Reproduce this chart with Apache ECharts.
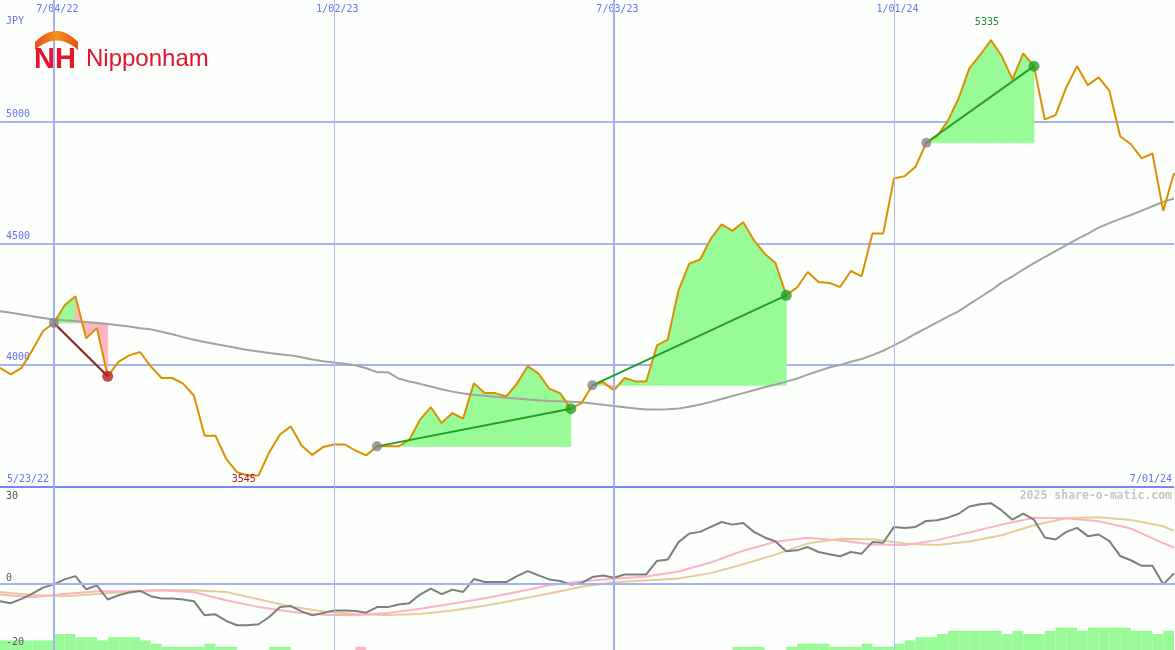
<!DOCTYPE html>
<html><head><meta charset="utf-8">
<script src="https://cdn.jsdelivr.net/npm/echarts@6/dist/echarts.min.js"></script>
<style>html,body{margin:0;padding:0;background:#fcfffc}#c{width:1175px;height:650px}</style>
</head><body><div id="c"></div>
<script>
// ---- data ----
const firstWeek = [2022, 4, 30];   // Monday 5/30/22 (first plotted week)
const weekCount = 110;
const price = [
 3988,3961,3988,4060,4139,4172,4245,4282,4109,4151,
 3953,4012,4039,4053,3994,3946,3946,3923,3874,3709,
 3709,3614,3559,3545,3545,3641,3714,3747,3669,3630,
 3662,3673,3673,3648,3628,3665,3665,3665,3692,3775,
 3826,3761,3802,3779,3925,3884,3884,3870,3923,3995,
 3964,3902,3884,3820,3843,3916,3929,3895,3946,3932,
 3932,4080,4104,4307,4416,4433,4519,4578,4551,4586,
 4512,4457,4419,4286,4318,4382,4341,4337,4320,4386,
 4364,4540,4540,4766,4776,4814,4913,4940,5003,5095,
 5219,5274,5335,5270,5174,5281,5228,5009,5027,5141,
 5228,5150,5182,5127,4940,4907,4849,4869,4633,4789];
const movingAvg = [
 4221,4214,4207,4200,4193,4187,4183,4180,4176,4172,
 4168,4163,4158,4151,4146,4136,4126,4114,4103,4094,
 4086,4078,4069,4061,4055,4049,4044,4039,4031,4022,
 4015,4010,4005,3998,3986,3970,3970,3944,3932,3922,
 3911,3900,3890,3882,3877,3873,3869,3865,3862,3858,
 3855,3852,3850,3848,3846,3841,3836,3831,3826,3821,
 3817,3817,3818,3821,3828,3837,3848,3860,3872,3884,
 3896,3908,3919,3931,3944,3960,3975,3989,4000,4013,
 4024,4040,4058,4080,4103,4128,4151,4175,4198,4220,
 4250,4278,4306,4338,4364,4392,4418,4443,4468,4492,
 4517,4540,4564,4583,4600,4616,4634,4652,4670,4684];
const oscillator = [
 -5.2,-5.8,-4.5,-2.9,-1.1,-0.1,1.4,2.4,-1.6,-0.4,
 -4.7,-3.4,-2.6,-2.1,-3.7,-4.4,-4.4,-4.7,-5.2,-9.5,
 -9.2,-11.2,-12.5,-12.5,-12.2,-10,-7,-6.7,-8.3,-9.5,
 -8.8,-8,-8,-8.2,-8.7,-7,-7,-6.2,-5.8,-3.2,
 -1.4,-3.1,-1.7,-2.4,1.5,0.6,0.6,0.6,2.4,3.9,
 2.6,1.4,0.9,-0.2,0.3,2.1,2.6,1.9,2.9,2.9,
 2.9,7,7.4,12.7,15.3,15.8,17.3,18.8,18,18.5,
 15.8,14.1,12.9,9.9,10.2,11.2,9.7,9,8.4,9.7,
 9.2,12.7,12.5,17.3,17,17.3,19.1,19.3,20.1,21.3,
 23.5,24.2,24.5,22.3,19.5,21.3,19.5,14.1,13.5,15.8,
 17,14.5,15,13,8.5,7.2,5.5,5.5,-0.1,3.2];
const signalFast = [[0,-3.2],[3,-4.0],[6,-3.0],[9,-2.2],[12,-2.1],[15,-1.9],[18,-2.5],[21,-4.9],[24,-7.0],[27,-8.4],
 [30,-9.3],[33,-9.5],[36,-8.8],[39,-7.5],[42,-6.0],[45,-4.3],[48,-2.4],[51,-0.4],[54,0.8],[57,1.6],
 [60,2.3],[63,3.8],[66,6.5],[69,10.1],[72,12.8],[75,14.0],[78,13.2],[81,12.0],[84,11.8],[87,13.3],
 [90,15.6],[93,18.0],[96,20.1],[99,19.9],[102,19.0],[105,16.8],[108,12.4],[109,11.0]];
const signalSlow = [[0,-2.4],[3,-3.3],[6,-3.7],[9,-3.0],[12,-2.3],[15,-1.9],[18,-1.9],[21,-2.4],[24,-4.6],[27,-6.8],
 [30,-8.3],[33,-9.1],[36,-9.4],[39,-9.1],[42,-8.0],[45,-6.6],[48,-4.8],[51,-2.9],[54,-0.8],[57,0.5],
 [60,1.1],[63,1.7],[66,3.3],[69,6.0],[72,8.9],[75,12.3],[78,13.7],[81,13.6],[84,12.3],[87,11.8],
 [90,12.9],[93,14.8],[96,17.8],[99,19.9],[102,20.2],[105,19.4],[108,17.5],[109,16.1]];
const histogram = [
 3,3,3,3,3,5,5,4,4,3, 4,4,4,3,2,1,1,1,1,2, 1,1,0,0,0,1,1,0,0,0,
 0,0,0,-1,0,0,0,0,0,0, 0,0,0,0,0,0,0,0,0,0, 0,0,0,0,0,0,0,0,0,0,
 0,0,0,0,0,0,0,0,1,1, 1,0,0,1,2,2,2,1,1,1, 2,1,1,2,3,4,4,5,6,6,
 6,6,6,5,6,5,5,6,7,7, 6,7,7,7,7,6,6,5,6,6];
const trendStarts = [5, 35, 55, 86];
const trendEnds   = [10, 53, 73, 96];
const markedDates = ['7/04/22', '1/02/23', '7/03/23', '1/01/24'];
const heavyDates  = ['7/04/22', '7/03/23'];
const rangeLabels = ['5/23/22', '7/01/24'];
const lowerTickLabels = ['30', '0', '-20'];
const currencyLabel = 'JPY';
const brandName = 'Nipponham';
const brandMark = 'NH';
const credit = '2025 share-o-matic.com';

// ---- build ----
const dates = [];
for (let k = 0; k < weekCount; k++) {
  const d = new Date(Date.UTC(firstWeek[0], firstWeek[1], firstWeek[2] + 7 * k));
  dates.push((d.getUTCMonth() + 1) + '/' + String(d.getUTCDate()).padStart(2, '0') + '/' + String(d.getUTCFullYear()).slice(2));
}
const MONO = '"DejaVu Sans Mono", monospace';
const BLUE = '#6474f0';
const lin = (x2, y2, stops) => ({ type: 'linear', x: 0, y: 0, x2: x2, y2: y2, global: false,
  colorStops: stops.map(s => ({ offset: s[0], color: s[1] })) });

// logo arc as polygon (quadratic curves sampled)
function quad(p0, c, p1, n) {
  const pts = [];
  for (let i = 0; i <= n; i++) { const t = i / n, u = 1 - t;
    pts.push([u * u * p0[0] + 2 * u * t * c[0] + t * t * p1[0], u * u * p0[1] + 2 * u * t * c[1] + t * t * p1[1]]); }
  return pts;
}
const arcPts = quad([35, 42], [56.5, 20], [78, 42], 24).concat(quad([78, 50], [56.5, 31], [35, 50], 24));

const fillData = [];
trendStarts.forEach((s, t) => {
  const e = trendEnds[t], base = price[s];
  for (let k = s; k < e; k++) fillData.push([k, price[k], price[k + 1], base, price[k + 1] >= base ? 1 : 0]);
});

const trendSeries = trendStarts.map((s, t) => ({
  type: 'line', xAxisIndex: 0, yAxisIndex: 0, z: 6, silent: true, showSymbol: false,
  data: [[s, price[s]], [trendEnds[t], price[trendEnds[t]]]],
  lineStyle: { color: t === 0 ? '#8f1c1c' : '#22a022', width: 2 }
}));
const dotData = [];
trendStarts.forEach((s, t) => {
  dotData.push({ value: [s, price[s]], symbolSize: 10, itemStyle: { color: '#858585' } });
  dotData.push({ value: [trendEnds[t], price[trendEnds[t]]], symbolSize: 11, itemStyle: { color: t === 0 ? '#b02020' : '#23a023' } });
});

const vLines = markedDates.map(d => ({
  xAxis: d,
  lineStyle: heavyDates.includes(d) ? { color: '#a2b0f2', width: 2, type: 'solid' } : { color: '#b4bce6', width: 1, type: 'solid' }
}));

const chart = echarts.init(document.getElementById('c'), null, { renderer: 'canvas' });
chart.setOption({
  animation: false,
  backgroundColor: '#fcfffc',
  grid: [
    { left: 0, top: 0, width: 1174, height: 486.5 },
    { left: 0, top: 487, width: 1174, height: 163 }
  ],
  xAxis: [
    { gridIndex: 0, type: 'category', data: dates, boundaryGap: false, position: 'top',
      axisLine: { show: false }, axisTick: { show: false }, splitLine: { show: false },
      axisLabel: { inside: true, margin: 4, interval: (i, v) => markedDates.includes(v),
        color: BLUE, fontFamily: MONO, fontSize: 10, padding: [0, 0, 0, 7] } },
    { gridIndex: 1, type: 'category', data: dates, boundaryGap: false, position: 'top',
      axisLine: { show: true, lineStyle: { color: '#7888f0', width: 2 } },
      axisTick: { show: false }, axisLabel: { show: false }, splitLine: { show: false } }
  ],
  yAxis: [
    { gridIndex: 0, type: 'value', min: 3500, max: 5500, interval: 500,
      axisLine: { show: false }, axisTick: { show: false },
      axisLabel: { inside: true, showMinLabel: false, showMaxLabel: false, margin: 6, formatter: v => String(v),
        verticalAlign: 'bottom', align: 'left', color: BLUE, fontFamily: MONO, fontSize: 10, padding: [0, 0, 2, 0] },
      splitLine: { show: true, lineStyle: { width: 2, type: 'solid',
        color: ['#7888f0', '#a6b2f4', '#a6b2f4', '#a6b2f4', 'rgba(0,0,0,0)'] } } },
    { gridIndex: 1, type: 'value', min: -20, max: 29.4,
      axisLine: { show: false }, axisTick: { show: false }, axisLabel: { show: false }, splitLine: { show: false } },
    { gridIndex: 1, type: 'value', min: 0, max: 50.94,
      axisLine: { show: false }, axisTick: { show: false }, axisLabel: { show: false }, splitLine: { show: false } }
  ],
  series: [
    { type: 'line', xAxisIndex: 0, yAxisIndex: 0, z: 1, silent: true, showSymbol: false,
      data: price, lineStyle: { opacity: 0 },
      markLine: { silent: true, symbol: ['none', 'none'], label: { show: false }, animation: false, data: vLines } },
    { type: 'custom', xAxisIndex: 0, yAxisIndex: 0, z: 2, silent: true, clip: true,
      data: fillData,
      encode: { x: 0, y: 1 },
      renderItem: (params, api) => {
        const k = api.value(0);
        const p0 = api.coord([k, api.value(1)]);
        const p1 = api.coord([k + 1, api.value(2)]);
        const b0 = api.coord([k, api.value(3)]);
        const b1 = api.coord([k + 1, api.value(3)]);
        const col = api.value(4) > 0 ? '#98fb98' : '#ffb6c1';
        return { type: 'polygon', shape: { points: [b0, p0, p1, b1] }, style: { fill: col, stroke: col, lineWidth: 0.8 } };
      } },
    { type: 'line', xAxisIndex: 0, yAxisIndex: 0, z: 3, silent: true, showSymbol: false,
      data: movingAvg, lineStyle: { color: '#a3a3a3', width: 2 } },
    { type: 'line', xAxisIndex: 0, yAxisIndex: 0, z: 4, silent: true, showSymbol: false,
      data: price, lineStyle: { color: '#dc9000', width: 2 },
      markPoint: { symbol: 'circle', symbolSize: 0, silent: true, animation: false,
        label: { show: true, formatter: '{c}', fontFamily: MONO, fontSize: 10 },
        data: [
          { type: 'max', label: { position: 'top', distance: 13, color: '#2a8a2a', offset: [-4, 0] } },
          { type: 'min', label: { position: 'bottom', distance: -1, color: '#a01c1c', offset: [-4, 0] } }
        ] } },
    ...trendSeries,
    { type: 'scatter', xAxisIndex: 0, yAxisIndex: 0, z: 7, silent: true, data: dotData },
    // lower panel
    { type: 'line', xAxisIndex: 1, yAxisIndex: 1, z: 1, silent: true, showSymbol: false,
      data: oscillator, lineStyle: { opacity: 0 },
      markLine: { silent: true, symbol: ['none', 'none'], label: { show: false }, animation: false,
        data: [...vLines, { yAxis: 0, lineStyle: { color: '#a6b2f4', width: 2, type: 'solid' } }] } },
    { type: 'custom', xAxisIndex: 1, yAxisIndex: 2, z: 2, silent: true, clip: true,
      data: histogram.map((v, k) => [k, v]),
      encode: { x: 0, y: 1 },
      renderItem: (params, api) => {
        const k = api.value(0), v = api.value(1);
        if (!v) return null;
        const a = api.coord([k, Math.abs(v)]);
        const b = api.coord([k + 1, 0]);
        return { type: 'rect', shape: { x: a[0], y: a[1], width: b[0] - a[0], height: b[1] - a[1] },
          style: { fill: v > 0 ? '#98fb98' : '#ffb6c1' } };
      } },
    { type: 'line', xAxisIndex: 1, yAxisIndex: 1, z: 3, silent: true, showSymbol: false,
      data: signalSlow, lineStyle: { color: '#e6cc9a', width: 2 } },
    { type: 'line', xAxisIndex: 1, yAxisIndex: 1, z: 3, silent: true, showSymbol: false,
      data: signalFast, lineStyle: { color: '#ffb2c2', width: 2 } },
    { type: 'line', xAxisIndex: 1, yAxisIndex: 1, z: 4, silent: true, showSymbol: false,
      data: oscillator, lineStyle: { color: '#7e7e7e', width: 2 } }
  ],
  graphic: [
    { type: 'text', x: 6, y: 21, z: 10, style: { text: currencyLabel, fill: BLUE, font: '10px ' + MONO, verticalAlign: 'middle' } },
    { type: 'text', x: 7, y: 479, z: 10, style: { text: rangeLabels[0], fill: BLUE, font: '10px ' + MONO, verticalAlign: 'middle' } },
    { type: 'text', x: 1172, y: 479, z: 10, style: { text: rangeLabels[1], fill: BLUE, font: '10px ' + MONO, align: 'right', verticalAlign: 'middle' } },
    { type: 'text', x: 6, y: 496, z: 10, style: { text: lowerTickLabels[0], fill: '#555', font: '10px ' + MONO, verticalAlign: 'middle' } },
    { type: 'text', x: 6, y: 578, z: 10, style: { text: lowerTickLabels[1], fill: '#555', font: '10px ' + MONO, verticalAlign: 'middle' } },
    { type: 'text', x: 6, y: 642, z: 10, style: { text: lowerTickLabels[2], fill: '#555', font: '10px ' + MONO, verticalAlign: 'middle' } },
    { type: 'text', x: 1172, y: 496, z: 10, style: { text: credit, fill: '#c6c6c6', font: 'bold 11.5px ' + MONO, align: 'right', verticalAlign: 'middle' } },
    // logo
    { type: 'polygon', z: 10, shape: { points: arcPts },
      style: { fill: lin(1, 0, [[0, '#ea4a1c'], [0.5, '#f5921e'], [1, '#ea4a1c']]) } },
    { type: 'text', x: 34, y: 60, z: 10, style: { text: brandMark, font: 'bold 29px "Liberation Sans", Arial, sans-serif',
      fill: '#e8142c', verticalAlign: 'middle' } },
    { type: 'text', x: 86, y: 59, z: 10, style: { text: brandName, font: '24px "Liberation Sans", Arial, sans-serif', fill: '#e3132d', verticalAlign: 'middle' } }
  ]
});
</script>
</body></html>
